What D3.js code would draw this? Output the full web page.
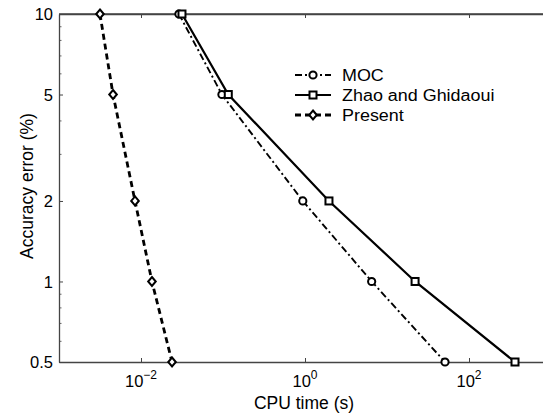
<!DOCTYPE html>
<html><head><meta charset="utf-8">
<script src="https://cdn.jsdelivr.net/npm/d3@7"></script>
<style>body{margin:0;background:#fff}svg{display:block}text{font-family:"Liberation Sans",Arial,Helvetica,sans-serif}</style>
</head><body><svg id="c" width="543" height="415"></svg>
<script>
const errorLevels = [10, 5, 2, 1, 0.5];
const mocTime = [0.029, 0.097, 0.94, 6.5, 51];
const zhaoTime = [0.0316, 0.116, 1.96, 22, 364];
const presentTime = [0.00316, 0.00456, 0.00845, 0.0136, 0.0239];
const seriesNames = ["MOC", "Zhao and Ghidaoui", "Present"];
const xTickValues = [1e-2, 1e0, 1e2];
const xTickExp = ["\u22122", "0", "2"];
const yTickValues = [0.5, 1, 2, 5, 10];
const yTickLabels = ["0.5", "1", "2", "5", "10"];
const yMinorTicks = [0.6, 0.7, 0.8, 0.9, 3, 4, 6, 7, 8, 9];

const svg = d3.select("#c");
const L = 59, R = 551, T = 14, B = 362;
const x = d3.scaleLog().domain([1e-3, 1e3]).range([L, R]);
const y = d3.scaleLog().domain([0.5, 10]).range([B, T]);
const axisCol = "#444";

// frame
svg.append("line").attr("x1", L).attr("x2", R).attr("y1", T).attr("y2", T).attr("stroke", axisCol).attr("stroke-width", 1.3);
svg.append("line").attr("x1", R).attr("x2", R).attr("y1", T).attr("y2", B).attr("stroke", axisCol).attr("stroke-width", 1.3);

const xAx = svg.append("g").attr("transform", `translate(0,${B})`)
  .call(d3.axisBottom(x).tickValues(xTickValues).tickSizeInner(-4).tickSizeOuter(0).tickFormat(""));
const xAxTop = svg.append("g").attr("transform", `translate(0,${T})`)
  .call(d3.axisTop(x).tickValues(xTickValues).tickSizeInner(-4).tickSizeOuter(0).tickFormat(""));
const yMinor = svg.append("g").attr("transform", `translate(${L},0)`)
  .call(d3.axisLeft(y).tickValues(yMinorTicks).tickSizeInner(-2.5).tickSizeOuter(0).tickFormat(""));
yMinor.select(".domain").remove();
yMinor.selectAll(".tick line").attr("stroke", "#666");
const yAx = svg.append("g").attr("transform", `translate(${L},0)`)
  .call(d3.axisLeft(y).tickValues(yTickValues).tickSizeInner(-4).tickSizeOuter(0).tickFormat((d,i)=>yTickLabels[i]));
[xAx, xAxTop, yAx].forEach(g => {
  g.select(".domain").attr("stroke", axisCol).attr("stroke-width", 1.3);
  g.selectAll(".tick line").attr("stroke", axisCol);
});
yAx.selectAll(".tick text").attr("x", -6).attr("dy", "0.36em").attr("fill", "#000").style("font-size", "16.5px").style("font-family", '"Liberation Sans",Arial,sans-serif');

// x tick labels with superscripts
xTickValues.forEach((v, i) => {
  const t = svg.append("text").attr("x", x(v)).attr("y", B + 25).attr("text-anchor", "middle").style("font-size", "16.5px");
  t.append("tspan").text("10");
  t.append("tspan").attr("dy", -8).style("font-size", "12px").text(xTickExp[i]);
});

// axis titles
svg.append("text").attr("x", 304).attr("y", 409).attr("text-anchor", "middle").style("font-size", "17.5px").text("CPU time (s)");
svg.append("text").attr("transform", `translate(33,186) rotate(-90)`).attr("text-anchor", "middle").style("font-size", "17.5px").text("Accuracy error (%)");

const line = d3.line().x(d => x(d[0])).y(d => y(d[1]));
const styles = [
  {data: mocTime, dash: "7,3,2,3", w: 1.9, marker: "circle"},
  {data: zhaoTime, dash: null, w: 2.2, marker: "square"},
  {data: presentTime, dash: "6,4", w: 2.8, marker: "diamond"}
];
function drawMarker(g, type, cx, cy) {
  if (type === "circle") g.append("circle").attr("cx", cx).attr("cy", cy).attr("r", 3.6).attr("fill", "#fff").attr("stroke", "#000").attr("stroke-width", 2);
  else if (type === "square") g.append("rect").attr("x", cx-3.5).attr("y", cy-3.5).attr("width", 7).attr("height", 7).attr("fill", "#fff").attr("stroke", "#000").attr("stroke-width", 2);
  else g.append("path").attr("d", `M${cx},${cy-4.5}L${cx+3.8},${cy}L${cx},${cy+4.5}L${cx-3.8},${cy}Z`).attr("fill", "#fff").attr("stroke", "#000").attr("stroke-width", 2);
}
styles.forEach(s => {
  const pts = s.data.map((t, i) => [t, errorLevels[i]]);
  svg.append("path").datum(pts).attr("d", line).attr("fill", "none").attr("stroke", "#000").attr("stroke-width", s.w).attr("stroke-dasharray", s.dash);
  const g = svg.append("g");
  pts.forEach(p => drawMarker(g, s.marker, x(p[0]), y(p[1])));
});

// legend
const lg = svg.append("g");
styles.forEach((s, i) => {
  const yy = 75 + i * 20;
  lg.append("line").attr("x1", 295).attr("x2", 331).attr("y1", yy).attr("y2", yy).attr("stroke", "#000").attr("stroke-width", s.w).attr("stroke-dasharray", s.dash);
  drawMarker(lg, s.marker, 313, yy);
  const t = lg.append("text").attr("x", 342).attr("y", yy + 6).style("font-size", "16px").text(seriesNames[i]);
  const w = t.node().getComputedTextLength();
  t.attr("textLength", w * 1.12).attr("lengthAdjust", "spacingAndGlyphs");
});
</script></body></html>
